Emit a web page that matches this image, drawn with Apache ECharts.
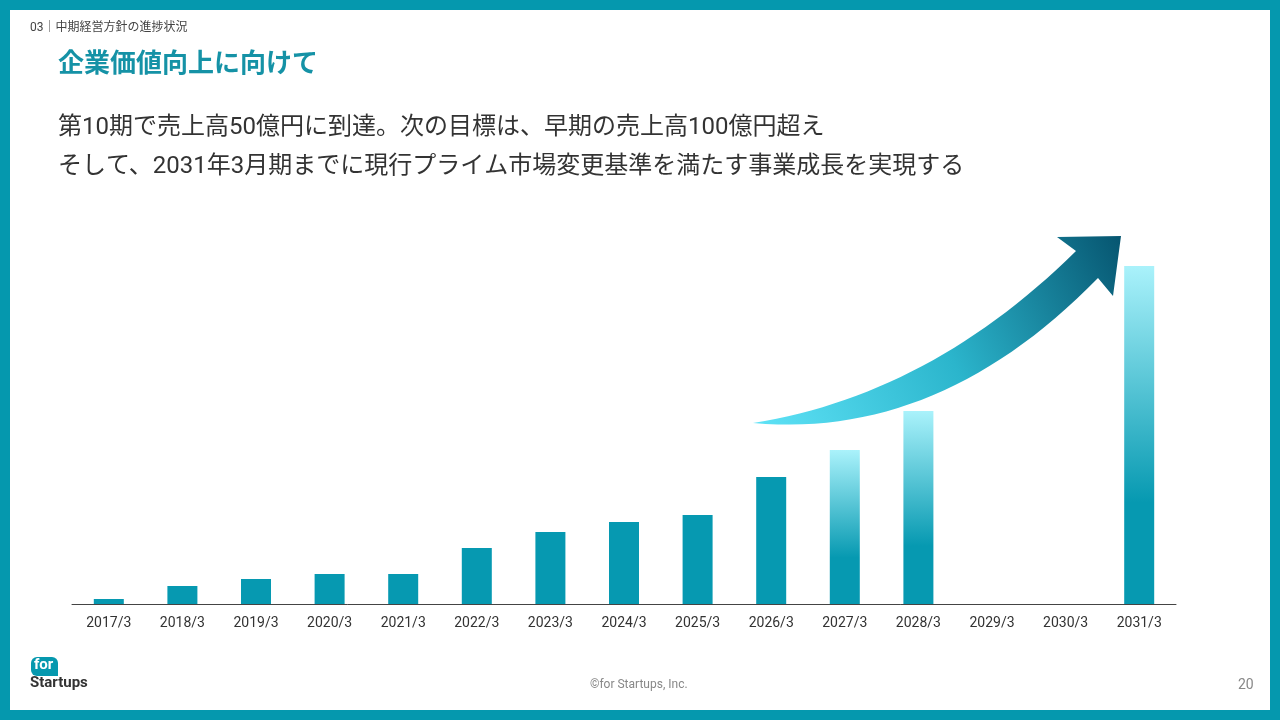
<!DOCTYPE html>
<html><head><meta charset="utf-8">
<script src="https://cdn.jsdelivr.net/npm/echarts@6/dist/echarts.min.js"></script>
<style>
html,body{margin:0;padding:0;}
#frame{position:absolute;left:0;top:0;width:1260px;height:700px;border:10px solid #0598ae;background:#fff;}
#chart{position:absolute;left:0;top:0;width:1280px;height:720px;}
</style></head>
<body><div id="frame"></div><div id="chart"></div>
<script>
const categories = ["2017/3","2018/3","2019/3","2020/3","2021/3","2022/3","2023/3","2024/3","2025/3","2026/3","2027/3","2028/3","2029/3","2030/3","2031/3"];
const actualValues = [5, 18, 25, 30, 30, 56, 72, 82, 89, 127, null, null, null, null, null];
const targetValues = [null, null, null, null, null, null, null, null, null, null, 154, 193, null, null, 338];

const font = "Roboto, 'Noto Sans CJK JP', sans-serif";

// decorative arrow outline: two quadratic curves sampled into a polygon
function quad(p0, p1, p2, n) {
  const out = [];
  for (let i = 0; i <= n; i++) {
    const t = i / n, u = 1 - t;
    out.push([u * u * p0[0] + 2 * u * t * p1[0] + t * t * p2[0], u * u * p0[1] + 2 * u * t * p1[1] + t * t * p2[1]]);
  }
  return out;
}
const arrowPts = quad([753, 423], [940, 440], [1098, 278], 30)
  .concat([[1113, 296], [1121, 236], [1057, 237]])
  .concat(quad([1076, 251], [930, 395], [753, 423], 30));

const chart = echarts.init(document.getElementById('chart'));
const fade = { type: 'linear', x: 0, y: 0, x2: 0, y2: 1, colorStops: [
  { offset: 0, color: '#aaf2fb' }, { offset: 0.7, color: '#0699b1' }, { offset: 1, color: '#0699b1' }] };
chart.setOption({
  animation: false,
  textStyle: { fontFamily: font },
  grid: { left: 72, right: 104, top: 200, bottom: 116 },
  xAxis: {
    type: 'category', data: categories,
    axisLine: { lineStyle: { color: '#444', width: 1 } },
    axisTick: { show: false },
    axisLabel: { color: '#333', fontSize: 14, margin: 12 }
  },
  yAxis: { type: 'value', min: 0, max: 404, show: false },
  series: [
    { type: 'bar', data: actualValues, stack: 'a', barWidth: 30, itemStyle: { color: '#0699b1' } },
    { type: 'bar', data: targetValues, stack: 'a', barWidth: 30, itemStyle: { color: fade } }
  ],
  graphic: [
    { type: 'text', left: 30, top: 22, style: { text: '03｜中期経営方針の進捗状況', fontSize: 12, fill: '#444', fontFamily: font } },
    { type: 'text', left: 58, top: 52, style: { text: '企業価値向上に向けて', fontSize: 26, fontWeight: 'bold', fill: '#1592a6', fontFamily: font } },
    { type: 'text', left: 58, top: 116, style: { text: '第10期で売上高50億円に到達。次の目標は、早期の売上高100億円超え', fontSize: 24, fill: '#333', fontFamily: font } },
    { type: 'text', left: 58, top: 155, style: { text: 'そして、2031年3月期までに現行プライム市場変更基準を満たす事業成長を実現する', fontSize: 24, fill: '#333', fontFamily: font } },
    { type: 'polygon', shape: { points: arrowPts },
      style: { fill: { type: 'linear', x: 0, y: 1, x2: 1, y2: 0, colorStops: [
        { offset: 0, color: '#5fe3f7' }, { offset: 0.5, color: '#2bb5cc' }, { offset: 1, color: '#065570' }] } } },
    { type: 'rect', shape: { x: 31, y: 657, width: 27, height: 19, r: [6, 6, 0, 6] }, style: { fill: '#0598ae' } },
    { type: 'text', left: 34, top: 658, style: { text: 'for', fontSize: 15, fontWeight: 'bold', fill: '#fff', fontFamily: font } },
    { type: 'text', left: 30, top: 676, style: { text: 'Startups', fontSize: 15, fontWeight: 'bold', fill: '#333', fontFamily: font } },
    { type: 'text', left: 590, top: 679, style: { text: '©for Startups, Inc.', fontSize: 12, fill: '#888', fontFamily: font } },
    { type: 'text', left: 1238, top: 678, style: { text: '20', fontSize: 14, fill: '#888', fontFamily: font } }
  ]
});
</script></body></html>
